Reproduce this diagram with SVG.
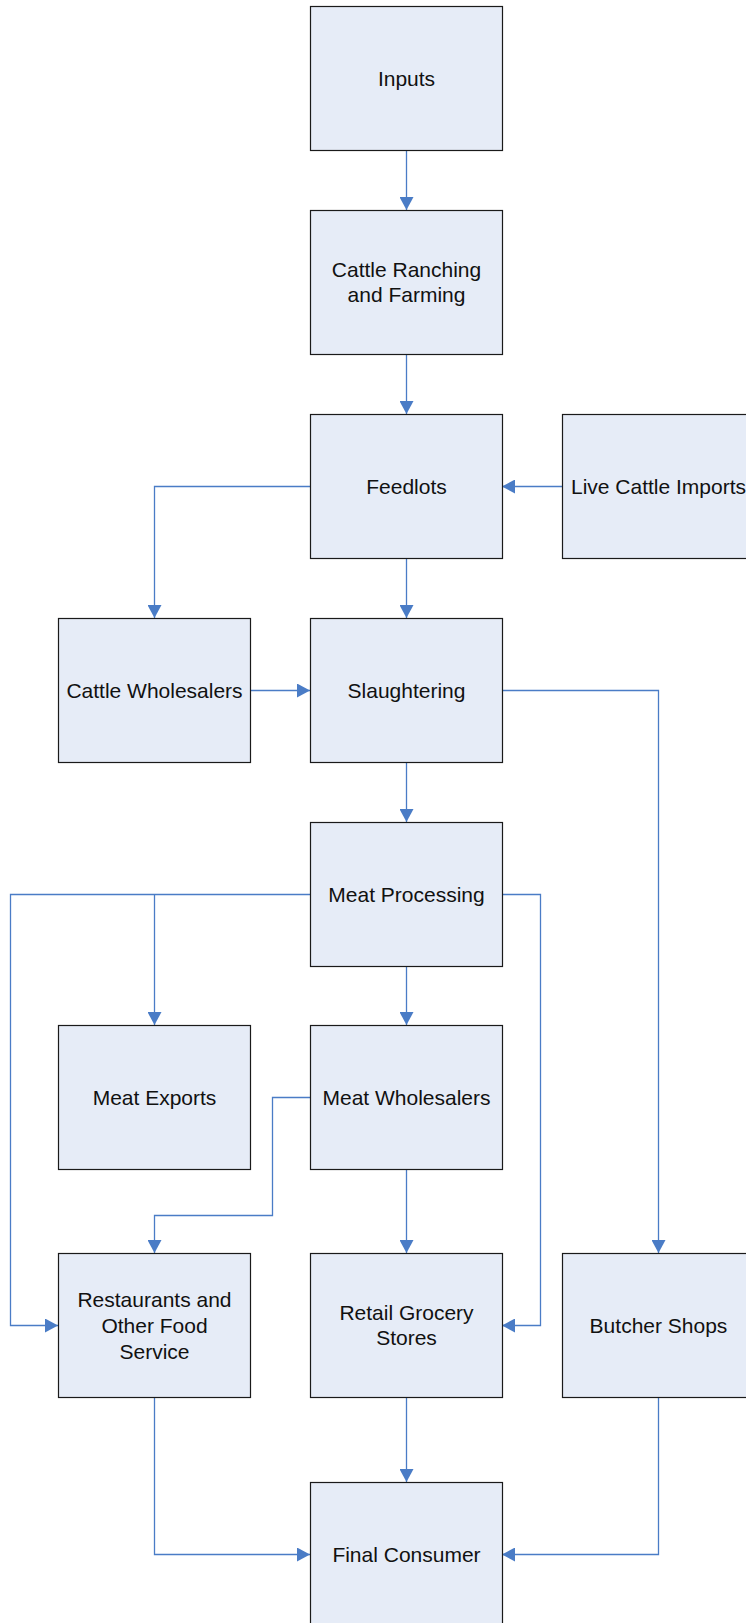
<svg xmlns="http://www.w3.org/2000/svg" width="746" height="1623" viewBox="0 0 746 1623">
<style>
.box{fill:#E6ECF7;stroke:#1a1a1a;stroke-width:1.2}
.lbl{font-family:"Liberation Sans",Arial,sans-serif;font-size:21px;fill:#111;text-anchor:middle}
.c{fill:none;stroke:#4A7CC6;stroke-width:1.3}
</style>
<defs>
<marker id="ah" markerUnits="userSpaceOnUse" markerWidth="14" markerHeight="14" refX="13" refY="7" orient="auto">
<path d="M0,0 L13,7 L0,14 z" fill="#4A7CC6"/>
</marker>
</defs>
<rect width="746" height="1623" fill="#fff"/>
<g id="connectors">
<path class="c" d="M406.5,150 V210" marker-end="url(#ah)"/>
<path class="c" d="M406.5,354 V414" marker-end="url(#ah)"/>
<path class="c" d="M562,486.5 H502" marker-end="url(#ah)"/>
<path class="c" d="M310,486.5 H154.5 V618" marker-end="url(#ah)"/>
<path class="c" d="M406.5,558 V618" marker-end="url(#ah)"/>
<path class="c" d="M250,690.5 H310" marker-end="url(#ah)"/>
<path class="c" d="M502,690.5 H658.5 V1253" marker-end="url(#ah)"/>
<path class="c" d="M406.5,762 V822" marker-end="url(#ah)"/>
<path class="c" d="M310,894.5 H10.5 V1325.5 H58" marker-end="url(#ah)"/>
<path class="c" d="M154.5,894.5 V1025" marker-end="url(#ah)"/>
<path class="c" d="M502,894.5 H540.5 V1325.5 H502" marker-end="url(#ah)"/>
<path class="c" d="M406.5,966 V1025" marker-end="url(#ah)"/>
<path class="c" d="M310,1097.5 H272.5 V1215.5 H154.5 V1253" marker-end="url(#ah)"/>
<path class="c" d="M406.5,1169 V1253" marker-end="url(#ah)"/>
<path class="c" d="M154.5,1397 V1554.5 H310" marker-end="url(#ah)"/>
<path class="c" d="M406.5,1397 V1482" marker-end="url(#ah)"/>
<path class="c" d="M658.5,1397 V1554.5 H502" marker-end="url(#ah)"/>
</g>
<g id="inputs"><rect class="box" x="310.5" y="6.5" width="192" height="144"/><text class="lbl" x="406.5" y="85.5">Inputs</text></g>
<g id="ranching"><rect class="box" x="310.5" y="210.5" width="192" height="144"/><text class="lbl" x="406.5" y="276.5">Cattle Ranching</text><text class="lbl" x="406.5" y="301.5">and Farming</text></g>
<g id="feedlots"><rect class="box" x="310.5" y="414.5" width="192" height="144"/><text class="lbl" x="406.5" y="493.5">Feedlots</text></g>
<g id="imports"><rect class="box" x="562.5" y="414.5" width="192" height="144"/><text class="lbl" x="658.5" y="493.5">Live Cattle Imports</text></g>
<g id="cattle-wholesalers"><rect class="box" x="58.5" y="618.5" width="192" height="144"/><text class="lbl" x="154.5" y="697.5">Cattle Wholesalers</text></g>
<g id="slaughtering"><rect class="box" x="310.5" y="618.5" width="192" height="144"/><text class="lbl" x="406.5" y="697.5">Slaughtering</text></g>
<g id="processing"><rect class="box" x="310.5" y="822.5" width="192" height="144"/><text class="lbl" x="406.5" y="901.5">Meat Processing</text></g>
<g id="exports"><rect class="box" x="58.5" y="1025.5" width="192" height="144"/><text class="lbl" x="154.5" y="1104.5">Meat Exports</text></g>
<g id="meat-wholesalers"><rect class="box" x="310.5" y="1025.5" width="192" height="144"/><text class="lbl" x="406.5" y="1104.5">Meat Wholesalers</text></g>
<g id="restaurants"><rect class="box" x="58.5" y="1253.5" width="192" height="144"/><text class="lbl" x="154.5" y="1306.5">Restaurants and</text><text class="lbl" x="154.5" y="1332.5">Other Food</text><text class="lbl" x="154.5" y="1358.5">Service</text></g>
<g id="retail"><rect class="box" x="310.5" y="1253.5" width="192" height="144"/><text class="lbl" x="406.5" y="1319.5">Retail Grocery</text><text class="lbl" x="406.5" y="1344.5">Stores</text></g>
<g id="butcher"><rect class="box" x="562.5" y="1253.5" width="192" height="144"/><text class="lbl" x="658.5" y="1332.5">Butcher Shops</text></g>
<g id="consumer"><rect class="box" x="310.5" y="1482.5" width="192" height="144"/><text class="lbl" x="406.5" y="1561.5">Final Consumer</text></g>
</svg>
